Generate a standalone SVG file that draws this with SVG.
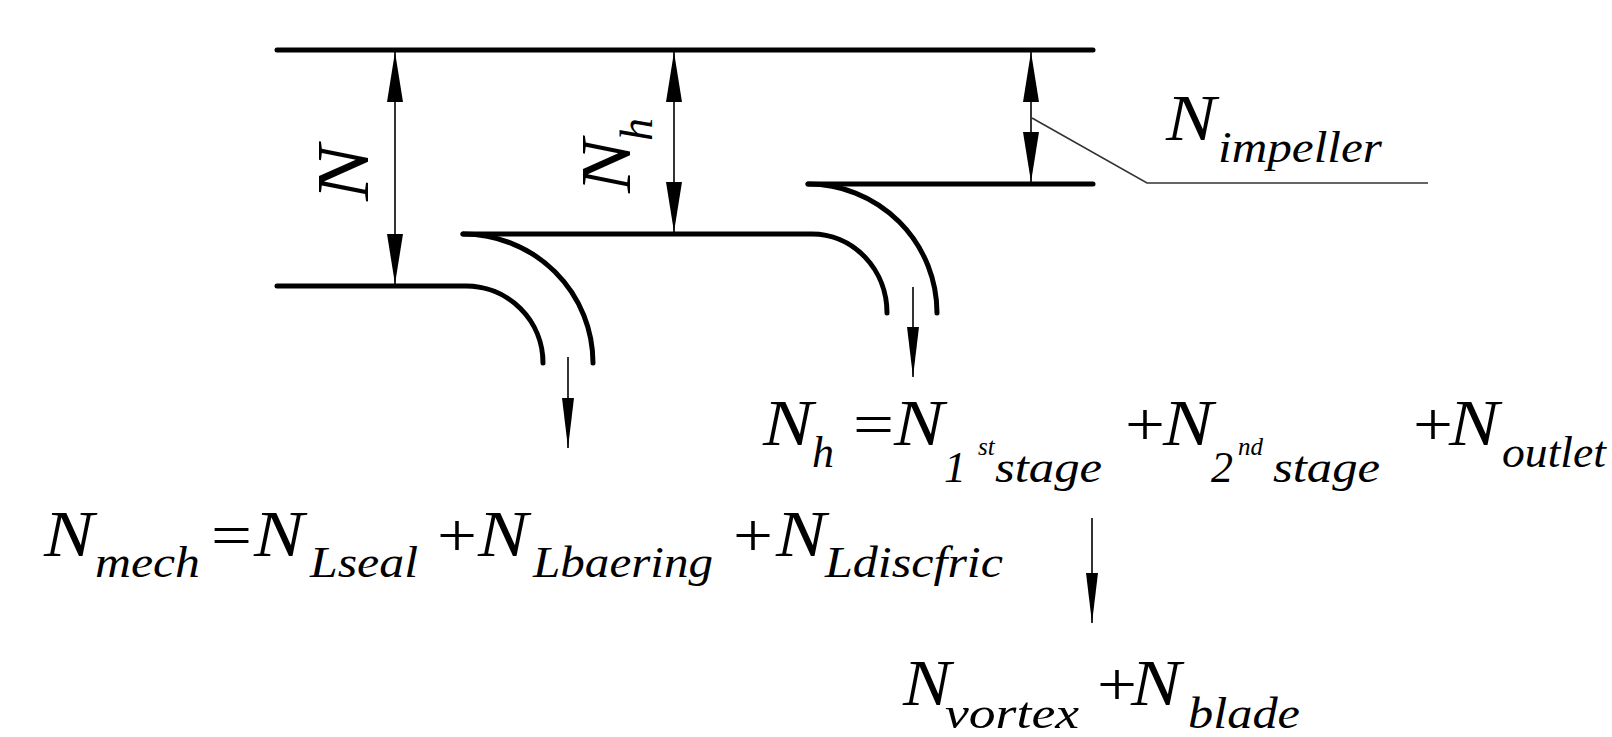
<svg xmlns="http://www.w3.org/2000/svg" width="1612" height="737" viewBox="0 0 1612 737">
<defs>
<style>
.wall{fill:none;stroke:#000;stroke-width:5;stroke-linecap:round;stroke-linejoin:round}
.dim{fill:none;stroke:#000;stroke-width:1.6}
.lead{fill:none;stroke:#333;stroke-width:1.6}
text{font-family:'Liberation Serif','Times New Roman',serif;font-style:italic;fill:#000}
.m{font-size:66px}
.s{font-size:44px}
.sup{font-size:25px}
.op{font-style:normal;font-size:62px}
</style>
<marker id="ah" markerUnits="userSpaceOnUse" markerWidth="50" markerHeight="16" refX="50" refY="8" orient="auto-start-reverse">
<path d="M0,0 L50,8 L0,16 Z" fill="#000"/>
</marker>
<marker id="as" markerUnits="userSpaceOnUse" markerWidth="50" markerHeight="12" refX="50" refY="6" orient="auto">
<path d="M0,0 L50,6 L0,12 Z" fill="#000"/>
</marker>
</defs>
<rect width="1612" height="737" fill="#fff"/>

<g id="walls">
<path class="wall" d="M277,50 H1093"/>
<path class="wall" d="M277,286 H466 A77,77 0 0 1 543,363"/>
<path class="wall" d="M463,234 A130,129 0 0 1 593,363"/>
<path class="wall" d="M463,234 H812 A75,79 0 0 1 887,313"/>
<path class="wall" d="M808,184 A129,129 0 0 1 937,313"/>
<path class="wall" d="M808,184 H1093"/>
</g>

<g id="connectors">
<line class="dim" x1="395" y1="52" x2="395" y2="284" marker-start="url(#ah)" marker-end="url(#ah)"/>
<line class="dim" x1="674" y1="52" x2="674" y2="232" marker-start="url(#ah)" marker-end="url(#ah)"/>
<line class="dim" x1="1031" y1="52" x2="1031" y2="182" marker-start="url(#ah)" marker-end="url(#ah)"/>
<polyline class="lead" points="1032,118 1147,183 1428,183"/>
<line class="dim" x1="568" y1="357" x2="568" y2="448" marker-end="url(#as)"/>
<line class="dim" x1="913" y1="287" x2="913" y2="377" marker-end="url(#as)"/>
<line class="dim" x1="1092" y1="518" x2="1092" y2="623" marker-end="url(#as)"/>
</g>

<g id="label-N">
<text font-size="73" transform="translate(368,201) rotate(-90)" textLength="56" lengthAdjust="spacingAndGlyphs">N</text>
</g>
<g id="label-Nh">
<text font-size="71" transform="translate(630,193) rotate(-90)" textLength="54" lengthAdjust="spacingAndGlyphs">N</text>
<text font-size="46" transform="translate(630,193) rotate(-90)" x="52" y="22">h</text>
</g>

<g id="label-impeller">
<text class="m" x="1166" y="140" textLength="50" lengthAdjust="spacingAndGlyphs">N</text>
<text class="s" x="1218" y="162" textLength="164" lengthAdjust="spacingAndGlyphs">impeller</text>
</g>

<g id="eq-mech">
<text class="m" x="44" y="556" textLength="50" lengthAdjust="spacingAndGlyphs">N</text>
<text class="s" x="95" y="577" textLength="105" lengthAdjust="spacingAndGlyphs">mech</text>
<text class="op" x="211" y="556" textLength="41" lengthAdjust="spacingAndGlyphs">=</text>
<text class="m" x="254" y="556" textLength="50" lengthAdjust="spacingAndGlyphs">N</text>
<text class="s" x="310" y="577" textLength="108" lengthAdjust="spacingAndGlyphs">Lseal</text>
<text class="op" x="437" y="556" textLength="40" lengthAdjust="spacingAndGlyphs">+</text>
<text class="m" x="478" y="556" textLength="50" lengthAdjust="spacingAndGlyphs">N</text>
<text class="s" x="533" y="577" textLength="180" lengthAdjust="spacingAndGlyphs">Lbaering</text>
<text class="op" x="733" y="556" textLength="40" lengthAdjust="spacingAndGlyphs">+</text>
<text class="m" x="776" y="556" textLength="50" lengthAdjust="spacingAndGlyphs">N</text>
<text class="s" x="825" y="577" textLength="178" lengthAdjust="spacingAndGlyphs">Ldiscfric</text>
</g>

<g id="eq-h">
<text class="m" x="763" y="445" textLength="50" lengthAdjust="spacingAndGlyphs">N</text>
<text class="s" x="812" y="467">h</text>
<text class="op" x="853" y="445" textLength="41" lengthAdjust="spacingAndGlyphs">=</text>
<text class="m" x="894" y="445" textLength="50" lengthAdjust="spacingAndGlyphs">N</text>
<text class="s" x="944" y="482">1</text>
<text class="sup" x="978" y="455">st</text>
<text class="s" x="995" y="482" textLength="107" lengthAdjust="spacingAndGlyphs">stage</text>
<text class="op" x="1125" y="445" textLength="40" lengthAdjust="spacingAndGlyphs">+</text>
<text class="m" x="1163" y="445" textLength="50" lengthAdjust="spacingAndGlyphs">N</text>
<text class="s" x="1211" y="482">2</text>
<text class="sup" x="1238" y="455">nd</text>
<text class="s" x="1273" y="482" textLength="107" lengthAdjust="spacingAndGlyphs">stage</text>
<text class="op" x="1413" y="445" textLength="40" lengthAdjust="spacingAndGlyphs">+</text>
<text class="m" x="1449" y="445" textLength="50" lengthAdjust="spacingAndGlyphs">N</text>
<text class="s" x="1502" y="467" textLength="104" lengthAdjust="spacingAndGlyphs">outlet</text>
</g>

<g id="eq-vortex">
<text class="m" x="903" y="705" textLength="48" lengthAdjust="spacingAndGlyphs">N</text>
<text class="s" x="945" y="728" textLength="134" lengthAdjust="spacingAndGlyphs">vortex</text>
<text class="op" x="1097" y="705" textLength="40" lengthAdjust="spacingAndGlyphs">+</text>
<text class="m" x="1131" y="705" textLength="50" lengthAdjust="spacingAndGlyphs">N</text>
<text class="s" x="1188" y="728" textLength="112" lengthAdjust="spacingAndGlyphs">blade</text>
</g>
</svg>
